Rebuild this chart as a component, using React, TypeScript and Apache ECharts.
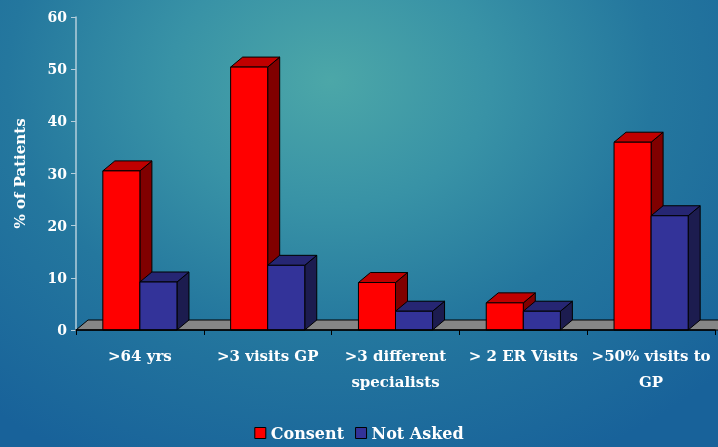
import React, { useEffect, useRef } from "react";
import * as echarts from "echarts";

const categories = [">64 yrs", ">3 visits GP", ">3 different\nspecialists", "> 2 ER Visits", ">50% visits to\nGP"];
const consentValues = [30.5, 50.4, 9.1, 5.2, 36];
const notAskedValues = [9.2, 12.4, 3.6, 3.6, 21.9];
const seriesNames = ["Consent", "Not Asked"];
const yMin = 0;
const yMax = 60;
const yInterval = 10;

const DX = 12;
const DY = 10;
const FONT = "'DejaVu Serif', 'Liberation Serif', serif";

const palettes = [
  { front: "#ff0000", top: "#c00000", side: "#800000" },
  { front: "#333399", top: "#262673", side: "#1c1c4f" },
];

function makeBarRenderer(si: number) {
  const c = palettes[si];
  return (params: any, api: any) => {
    const idx = api.value(0);
    const val = api.value(1);
    const top = api.coord([idx, val]);
    const base = api.coord([idx, 0]);
    const band = api.size([1, 0])[0];
    const w = band * 0.29;
    const x0 = si === 0 ? top[0] - w : top[0];
    const x1 = x0 + w;
    const yT = top[1];
    const yB = base[1];
    const stroke = { stroke: "#000", lineWidth: 1 };
    return {
      type: "group",
      children: [
        {
          type: "polygon",
          shape: { points: [[x1, yT], [x1 + DX, yT - DY], [x1 + DX, yB - DY], [x1, yB]] },
          style: { fill: c.side, ...stroke },
        },
        {
          type: "polygon",
          shape: { points: [[x0, yT], [x0 + DX, yT - DY], [x1 + DX, yT - DY], [x1, yT]] },
          style: { fill: c.top, ...stroke },
        },
        {
          type: "rect",
          shape: { x: x0, y: yT, width: w, height: yB - yT },
          style: { fill: c.front, ...stroke },
        },
      ],
    };
  };
}

function floorRenderer(params: any, api: any) {
  const cs = params.coordSys;
  const yB = api.coord([0, 0])[1];
  const xL = cs.x;
  const xR = cs.x + cs.width;
  return {
    type: "polygon",
    shape: { points: [[xL, yB], [xL + DX, yB - DY], [xR + DX + 40, yB - DY], [xR + 40, yB]] },
    style: { fill: "#868686", stroke: "#000", lineWidth: 1 },
  };
}

export default function App() {
  const ref = useRef<HTMLDivElement>(null);
  useEffect(() => {
    document.body.style.margin = "0";
    const chart = echarts.init(ref.current!, undefined, { renderer: "svg" });
    const text = { color: "#ffffff", fontWeight: "bold" as const, fontFamily: FONT };
    chart.setOption({
      animation: false,
      grid: { left: 76, right: 3, top: 17, bottom: 117, containLabel: false },
      legend: {
        data: seriesNames,
        top: 420,
        left: "center",
        icon: "rect",
        itemWidth: 11,
        itemHeight: 11,
        itemGap: 11,
        itemStyle: { borderColor: "#000", borderWidth: 1 },
        textStyle: { ...text, fontSize: 16 },
      },
      xAxis: {
        type: "category",
        data: categories,
        axisLine: { show: true, lineStyle: { color: "#000", width: 1.5 } },
        axisTick: { show: true, length: 5, lineStyle: { color: "#000" } },
        axisLabel: { ...text, fontSize: 15, margin: 13, lineHeight: 26, interval: 0 },
        z: 10,
      },
      yAxis: {
        type: "value",
        min: yMin,
        max: yMax,
        interval: yInterval,
        name: "% of Patients",
        nameLocation: "middle",
        nameRotate: 90,
        nameGap: 49,
        nameTextStyle: { ...text, fontSize: 15 },
        axisLine: { show: true, lineStyle: { color: "#b5cfdc", width: 1.5 } },
        axisTick: { show: true, length: 5, lineStyle: { color: "#b5cfdc" } },
        axisLabel: { ...text, fontSize: 14, margin: 9 },
        splitLine: { show: false },
      },
      series: [
        {
          name: "floor",
          type: "custom",
          renderItem: floorRenderer,
          data: [[0, 0]],
          encode: { x: 0, y: 1 },
          silent: true,
          z: 1,
        },
        {
          name: seriesNames[0],
          type: "custom",
          renderItem: makeBarRenderer(0),
          data: consentValues.map((v, i) => [i, v]),
          encode: { x: 0, y: 1 },
          itemStyle: { color: palettes[0].front, borderColor: "#000", borderWidth: 1 },
          z: 2,
        },
        {
          name: seriesNames[1],
          type: "custom",
          renderItem: makeBarRenderer(1),
          data: notAskedValues.map((v, i) => [i, v]),
          encode: { x: 0, y: 1 },
          itemStyle: { color: palettes[1].front, borderColor: "#000", borderWidth: 1 },
          z: 3,
        },
      ],
    });
    return () => chart.dispose();
  }, []);
  return (
    <div
      ref={ref}
      style={{
        position: "fixed",
        left: 0,
        top: 0,
        width: 718,
        height: 447,
        background:
          "radial-gradient(ellipse 75% 95% at 46% 18%, #4ca7a8 0%, #3892a6 30%, #24779e 60%, #18629a 100%)",
      }}
    />
  );
}
